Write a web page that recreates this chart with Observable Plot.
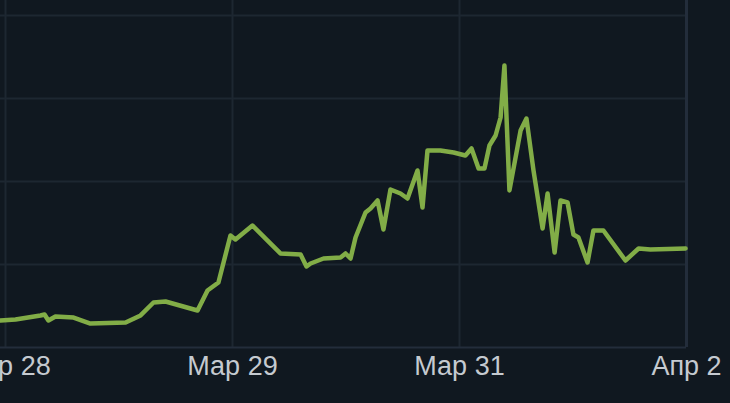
<!DOCTYPE html>
<html>
<head>
<meta charset="utf-8">
<script src="https://cdn.jsdelivr.net/npm/d3@7"></script>
<script src="https://cdn.jsdelivr.net/npm/@observablehq/plot@0.6"></script>
<style>
  html, body { margin: 0; padding: 0; background: #101820; overflow: hidden; }
  #chart { width: 730px; height: 403px; }
</style>
</head>
<body>
<div id="chart"></div>
<script>
// x position in tick units (0 = Мар 28, 1 = Мар 29, 2 = Мар 31, 3 = Апр 2)
const xPos = [-0.022, 0.044, 0.154, 0.172, 0.189, 0.220, 0.300, 0.374, 0.529, 0.595, 0.652, 0.705, 0.846, 0.890, 0.938, 0.991, 1.013, 1.088, 1.211, 1.300, 1.326, 1.344, 1.401, 1.476, 1.498, 1.520, 1.542, 1.586, 1.608, 1.639, 1.665, 1.696, 1.740, 1.771, 1.815, 1.837, 1.859, 1.916, 1.974, 2.026, 2.053, 2.084, 2.110, 2.132, 2.159, 2.181, 2.198, 2.220, 2.269, 2.295, 2.326, 2.366, 2.388, 2.419, 2.445, 2.476, 2.502, 2.524, 2.564, 2.590, 2.634, 2.731, 2.789, 2.841, 2.996];
// values in grid units
const values = [0.325, 0.337, 0.386, 0.398, 0.325, 0.373, 0.361, 0.289, 0.301, 0.386, 0.542, 0.554, 0.446, 0.687, 0.783, 1.349, 1.301, 1.470, 1.133, 1.120, 0.976, 1.012, 1.072, 1.084, 1.133, 1.072, 1.325, 1.627, 1.675, 1.771, 1.422, 1.904, 1.855, 1.795, 2.133, 1.687, 2.373, 2.373, 2.349, 2.313, 2.398, 2.157, 2.157, 2.434, 2.554, 2.771, 3.398, 1.892, 2.614, 2.759, 2.133, 1.434, 1.855, 1.145, 1.771, 1.747, 1.361, 1.325, 1.024, 1.410, 1.410, 1.048, 1.193, 1.181, 1.193];
const tickPositions = [0, 1, 2, 3];
const tickLabels = ["Мар 28", "Мар 29", "Мар 31", "Апр 2"];
const gridValues = [1, 2, 3, 4];

const data = xPos.map((x, i) => ({x, y: values[i]}));

const chart = Plot.plot({
  width: 730,
  height: 403,
  marginLeft: 0,
  marginRight: 44,
  marginTop: 0,
  marginBottom: 56,
  style: {background: "#101820", fontFamily: "'Liberation Sans', Arial, sans-serif", overflow: "visible"},
  x: {domain: [-5 / 227, 3]},
  y: {domain: [0, 347 / 83]},
  marks: [
    Plot.gridY(gridValues, {stroke: "#1d2731", strokeOpacity: 1, strokeWidth: 2}),
    Plot.gridX([0, 1, 2], {stroke: "#1d2731", strokeOpacity: 1, strokeWidth: 2}),
    Plot.ruleY([0], {stroke: "#232d3b", strokeWidth: 2}),
    Plot.ruleX([3], {stroke: "#232d3b", strokeWidth: 3}),
    Plot.axisY({ticks: [], label: null}),
    Plot.axisX({
      ticks: tickPositions,
      tickFormat: (d, i) => tickLabels[i],
      tickSize: 0,
      tickPadding: 8,
      fontSize: 27,
      fill: "#c5cad0",
      label: null
    }),
    Plot.line(data, {x: "x", y: "y", stroke: "#82ad47", strokeWidth: 4.5, strokeLinejoin: "round", strokeLinecap: "round"})
  ]
});
document.getElementById("chart").appendChild(chart);
</script>
</body>
</html>
